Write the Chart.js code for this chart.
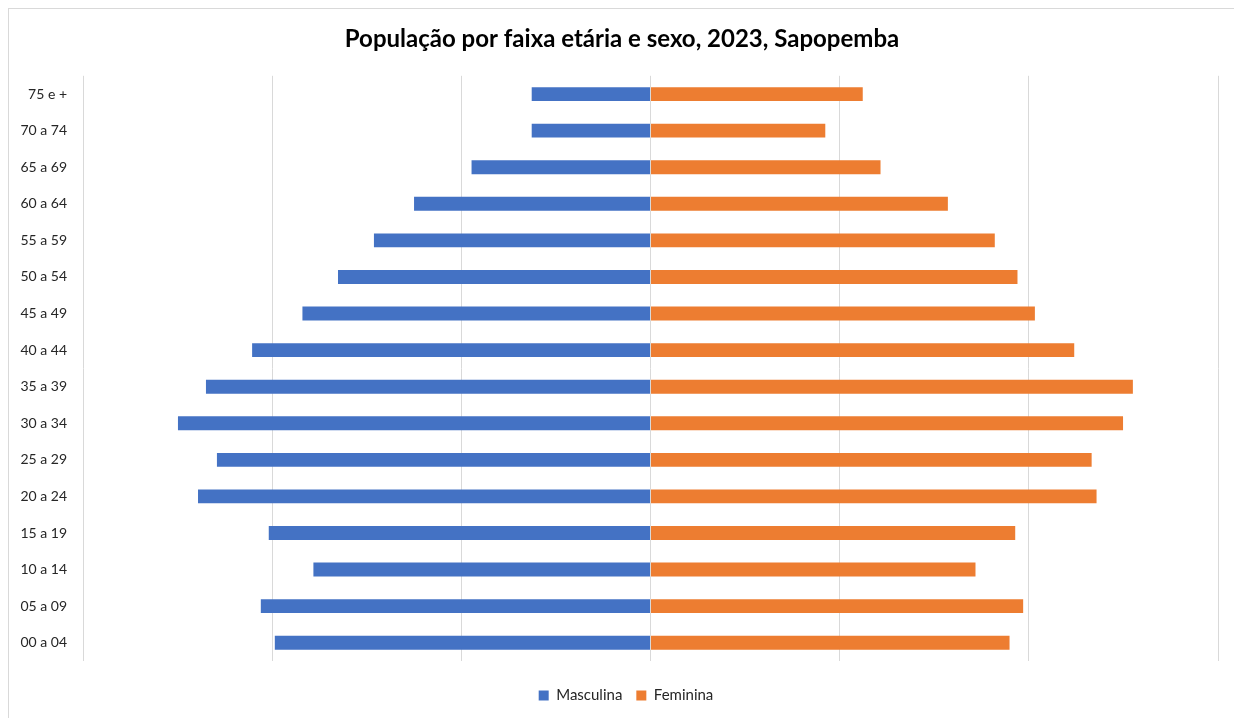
<!DOCTYPE html>
<html>
<head>
<meta charset="utf-8">
<script src="https://cdn.jsdelivr.net/npm/chart.js@4/dist/chart.umd.min.js"></script>
<style>
  html, body { margin: 0; padding: 0; background: #fff; }
  #wrap { position: relative; width: 1234px; height: 718px; overflow: hidden; }
  #frame { position: absolute; left: 8px; top: 8px; width: 1240px; height: 720px; border: 1px solid #d9d9d9; box-sizing: border-box; }
  canvas { position: absolute; left: 0; top: 0; }
</style>
</head>
<body>
<div id="wrap">
  <div id="frame"></div>
  <canvas id="pyramid" width="1234" height="718"></canvas>
</div>
<script>
// Age groups, top to bottom as in the picture
const faixas = ['75 e +', '70 a 74', '65 a 69', '60 a 64', '55 a 59', '50 a 54', '45 a 49', '40 a 44',
  '35 a 39', '30 a 34', '25 a 29', '20 a 24', '15 a 19', '10 a 14', '05 a 09', '00 a 04'];

// Estimated population counts (men drawn to the left)
const masculina = [3140, 3140, 4730, 6250, 7310, 8260, 9200, 10530,
  11750, 12490, 11460, 11960, 10090, 8910, 10300, 9930];
const feminina = [5610, 4620, 6080, 7860, 9100, 9700, 10160, 11200,
  12750, 12490, 11660, 11790, 9640, 8590, 9850, 9490];

const xMin = -15000;
const xMax = 15000;
const xStep = 5000;

const fontFamily = 'Lato, "Open Sans", sans-serif';

// Title and legend sit a bit right of the plot's own centre in the original
const shiftBlocks = {
  id: 'shiftBlocks',
  afterLayout(chart) {
    const t = chart.titleBlock;
    if (t) { t.left = 26; t.width = t.right - t.left; }
    const l = chart.legend;
    if (l) { l.left = 34; l.width = l.right - l.left; }
  }
};

const ctx = document.getElementById('pyramid');
new Chart(ctx, {
  type: 'bar',
  data: {
    labels: faixas,
    datasets: [
      {
        label: 'Masculina',
        data: masculina.map(v => -v),
        backgroundColor: '#4472C4',
        borderWidth: 0,
        barPercentage: 0.38,
        categoryPercentage: 1
      },
      {
        label: 'Feminina',
        data: feminina,
        backgroundColor: '#ED7D31',
        borderWidth: 0,
        barPercentage: 0.38,
        categoryPercentage: 1
      }
    ]
  },
  options: {
    indexAxis: 'y',
    responsive: false,
    animation: false,
    layout: { padding: { left: 0, right: 16, top: 0, bottom: 5 } },
    scales: {
      x: {
        stacked: true,
        min: xMin,
        max: xMax,
        afterFit: (scale) => { scale.height = 13; },
        ticks: { display: false, stepSize: xStep },
        grid: { color: '#d9d9d9', lineWidth: 1, drawTicks: false },
        border: { display: false }
      },
      y: {
        stacked: true,
        afterFit: (scale) => { scale.width = 83; },
        ticks: {
          padding: 16,
          color: '#262626',
          font: { family: fontFamily, size: 14 }
        },
        grid: { display: false, drawTicks: false },
        border: { display: false }
      }
    },
    plugins: {
      title: {
        display: true,
        text: 'População por faixa etária e sexo, 2023, Sapopemba',
        color: '#000',
        font: { family: fontFamily, size: 24, weight: 'bold' },
        padding: { top: 25, bottom: 22 }
      },
      legend: {
        position: 'bottom',
        labels: {
          boxWidth: 10,
          boxHeight: 10,
          padding: 14,
          color: '#262626',
          font: { family: fontFamily, size: 15 }
        }
      },
      tooltip: { enabled: false }
    }
  },
  plugins: [shiftBlocks]
});
</script>
</body>
</html>
